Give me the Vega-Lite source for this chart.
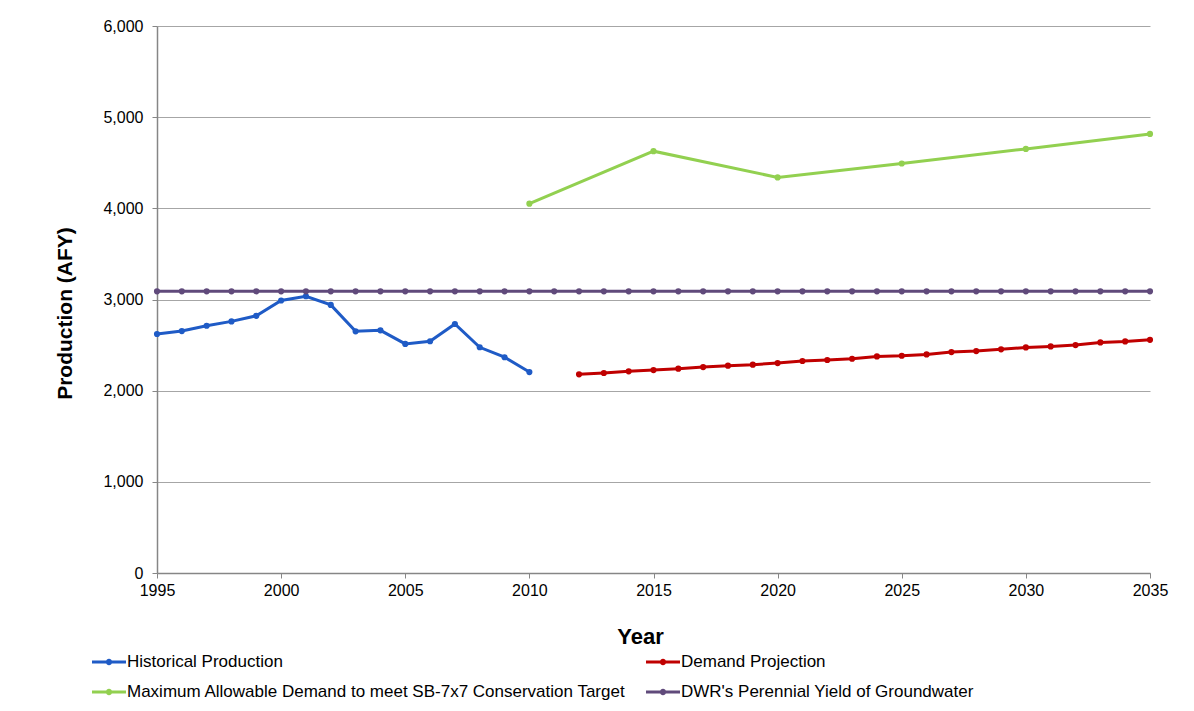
{
  "$schema": "https://vega.github.io/schema/vega-lite/v6.json",
  "width": 993,
  "height": 547,
  "autosize": {"type": "none"},
  "padding": {"left": 157, "top": 26, "right": 44, "bottom": 138},
  "background": "white",
  "config": {"view": {"stroke": null}, "font": "Liberation Sans"},
  "data": {
    "values": [
      {"series": "Historical Production", "year": 1995, "value": 2622},
      {"series": "Historical Production", "year": 1996, "value": 2654},
      {"series": "Historical Production", "year": 1997, "value": 2712},
      {"series": "Historical Production", "year": 1998, "value": 2760},
      {"series": "Historical Production", "year": 1999, "value": 2821},
      {"series": "Historical Production", "year": 2000, "value": 2989},
      {"series": "Historical Production", "year": 2001, "value": 3036},
      {"series": "Historical Production", "year": 2002, "value": 2941},
      {"series": "Historical Production", "year": 2003, "value": 2651},
      {"series": "Historical Production", "year": 2004, "value": 2662},
      {"series": "Historical Production", "year": 2005, "value": 2513},
      {"series": "Historical Production", "year": 2006, "value": 2542},
      {"series": "Historical Production", "year": 2007, "value": 2731},
      {"series": "Historical Production", "year": 2008, "value": 2476},
      {"series": "Historical Production", "year": 2009, "value": 2367},
      {"series": "Historical Production", "year": 2010, "value": 2204},
      {"series": "Demand Projection", "year": 2012, "value": 2179},
      {"series": "Demand Projection", "year": 2013, "value": 2194},
      {"series": "Demand Projection", "year": 2014, "value": 2212},
      {"series": "Demand Projection", "year": 2015, "value": 2226},
      {"series": "Demand Projection", "year": 2016, "value": 2241},
      {"series": "Demand Projection", "year": 2017, "value": 2259},
      {"series": "Demand Projection", "year": 2018, "value": 2274},
      {"series": "Demand Projection", "year": 2019, "value": 2285},
      {"series": "Demand Projection", "year": 2020, "value": 2303},
      {"series": "Demand Projection", "year": 2021, "value": 2325},
      {"series": "Demand Projection", "year": 2022, "value": 2336},
      {"series": "Demand Projection", "year": 2023, "value": 2350},
      {"series": "Demand Projection", "year": 2024, "value": 2376},
      {"series": "Demand Projection", "year": 2025, "value": 2383},
      {"series": "Demand Projection", "year": 2026, "value": 2398},
      {"series": "Demand Projection", "year": 2027, "value": 2423},
      {"series": "Demand Projection", "year": 2028, "value": 2434},
      {"series": "Demand Projection", "year": 2029, "value": 2453},
      {"series": "Demand Projection", "year": 2030, "value": 2474},
      {"series": "Demand Projection", "year": 2031, "value": 2485},
      {"series": "Demand Projection", "year": 2032, "value": 2500},
      {"series": "Demand Projection", "year": 2033, "value": 2529},
      {"series": "Demand Projection", "year": 2034, "value": 2540},
      {"series": "Demand Projection", "year": 2035, "value": 2558},
      {"series": "Maximum Allowable Demand to meet SB-7x7 Conservation Target", "year": 2010, "value": 4051},
      {"series": "Maximum Allowable Demand to meet SB-7x7 Conservation Target", "year": 2015, "value": 4627},
      {"series": "Maximum Allowable Demand to meet SB-7x7 Conservation Target", "year": 2020, "value": 4339},
      {"series": "Maximum Allowable Demand to meet SB-7x7 Conservation Target", "year": 2025, "value": 4492},
      {"series": "Maximum Allowable Demand to meet SB-7x7 Conservation Target", "year": 2030, "value": 4652},
      {"series": "Maximum Allowable Demand to meet SB-7x7 Conservation Target", "year": 2035, "value": 4816},
      {"series": "DWR's Perennial Yield of Groundwater", "year": 1995, "value": 3090},
      {"series": "DWR's Perennial Yield of Groundwater", "year": 1996, "value": 3090},
      {"series": "DWR's Perennial Yield of Groundwater", "year": 1997, "value": 3090},
      {"series": "DWR's Perennial Yield of Groundwater", "year": 1998, "value": 3090},
      {"series": "DWR's Perennial Yield of Groundwater", "year": 1999, "value": 3090},
      {"series": "DWR's Perennial Yield of Groundwater", "year": 2000, "value": 3090},
      {"series": "DWR's Perennial Yield of Groundwater", "year": 2001, "value": 3090},
      {"series": "DWR's Perennial Yield of Groundwater", "year": 2002, "value": 3090},
      {"series": "DWR's Perennial Yield of Groundwater", "year": 2003, "value": 3090},
      {"series": "DWR's Perennial Yield of Groundwater", "year": 2004, "value": 3090},
      {"series": "DWR's Perennial Yield of Groundwater", "year": 2005, "value": 3090},
      {"series": "DWR's Perennial Yield of Groundwater", "year": 2006, "value": 3090},
      {"series": "DWR's Perennial Yield of Groundwater", "year": 2007, "value": 3090},
      {"series": "DWR's Perennial Yield of Groundwater", "year": 2008, "value": 3090},
      {"series": "DWR's Perennial Yield of Groundwater", "year": 2009, "value": 3090},
      {"series": "DWR's Perennial Yield of Groundwater", "year": 2010, "value": 3090},
      {"series": "DWR's Perennial Yield of Groundwater", "year": 2011, "value": 3090},
      {"series": "DWR's Perennial Yield of Groundwater", "year": 2012, "value": 3090},
      {"series": "DWR's Perennial Yield of Groundwater", "year": 2013, "value": 3090},
      {"series": "DWR's Perennial Yield of Groundwater", "year": 2014, "value": 3090},
      {"series": "DWR's Perennial Yield of Groundwater", "year": 2015, "value": 3090},
      {"series": "DWR's Perennial Yield of Groundwater", "year": 2016, "value": 3090},
      {"series": "DWR's Perennial Yield of Groundwater", "year": 2017, "value": 3090},
      {"series": "DWR's Perennial Yield of Groundwater", "year": 2018, "value": 3090},
      {"series": "DWR's Perennial Yield of Groundwater", "year": 2019, "value": 3090},
      {"series": "DWR's Perennial Yield of Groundwater", "year": 2020, "value": 3090},
      {"series": "DWR's Perennial Yield of Groundwater", "year": 2021, "value": 3090},
      {"series": "DWR's Perennial Yield of Groundwater", "year": 2022, "value": 3090},
      {"series": "DWR's Perennial Yield of Groundwater", "year": 2023, "value": 3090},
      {"series": "DWR's Perennial Yield of Groundwater", "year": 2024, "value": 3090},
      {"series": "DWR's Perennial Yield of Groundwater", "year": 2025, "value": 3090},
      {"series": "DWR's Perennial Yield of Groundwater", "year": 2026, "value": 3090},
      {"series": "DWR's Perennial Yield of Groundwater", "year": 2027, "value": 3090},
      {"series": "DWR's Perennial Yield of Groundwater", "year": 2028, "value": 3090},
      {"series": "DWR's Perennial Yield of Groundwater", "year": 2029, "value": 3090},
      {"series": "DWR's Perennial Yield of Groundwater", "year": 2030, "value": 3090},
      {"series": "DWR's Perennial Yield of Groundwater", "year": 2031, "value": 3090},
      {"series": "DWR's Perennial Yield of Groundwater", "year": 2032, "value": 3090},
      {"series": "DWR's Perennial Yield of Groundwater", "year": 2033, "value": 3090},
      {"series": "DWR's Perennial Yield of Groundwater", "year": 2034, "value": 3090},
      {"series": "DWR's Perennial Yield of Groundwater", "year": 2035, "value": 3090}
    ]
  },
  "mark": {"type": "line", "strokeWidth": 3, "point": {"filled": true, "size": 38}},
  "encoding": {
    "x": {
      "field": "year",
      "type": "quantitative",
      "scale": {"domain": [1995, 2035], "nice": false, "zero": false},
      "axis": {
        "title": "Year",
        "values": [1995, 2000, 2005, 2010, 2015, 2020, 2025, 2030, 2035],
        "format": "d",
        "grid": false,
        "domainColor": "#868686",
        "domainWidth": 1.5,
        "tickColor": "#868686",
        "tickSize": 5,
        "labelFont": "Liberation Sans",
        "labelFontSize": 16,
        "labelColor": "#000000",
        "labelPadding": 4,
        "labelFlush": false,
        "titleFont": "Liberation Sans",
        "titleFontSize": 22,
        "titleFontWeight": "bold",
        "titleColor": "#000000",
        "titleX": 483,
        "titleY": 63,
        "titleBaseline": "middle"
      }
    },
    "y": {
      "field": "value",
      "type": "quantitative",
      "scale": {"domain": [0, 6000], "nice": false},
      "axis": {
        "title": "Production (AFY)",
        "values": [0, 1000, 2000, 3000, 4000, 5000, 6000],
        "format": ",d",
        "gridColor": "#a6a6a6",
        "gridWidth": 1,
        "domainColor": "#868686",
        "domainWidth": 1.5,
        "tickColor": "#868686",
        "tickSize": 5,
        "labelFont": "Liberation Sans",
        "labelFontSize": 16,
        "labelColor": "#000000",
        "labelPadding": 9,
        "titleFont": "Liberation Sans",
        "titleFontSize": 21,
        "titleFontWeight": "bold",
        "titleColor": "#000000",
        "titleX": -92,
        "titleY": 287,
        "titleBaseline": "middle",
        "titleAlign": "center"
      }
    },
    "color": {
      "field": "series",
      "type": "nominal",
      "scale": {
        "domain": ["Historical Production", "Demand Projection", "Maximum Allowable Demand to meet SB-7x7 Conservation Target", "DWR's Perennial Yield of Groundwater"],
        "range": ["#1f5bc6", "#c00000", "#92d050", "#604a7b"]
      },
      "legend": {
        "title": null,
        "orient": "none",
        "legendX": -58,
        "legendY": 626,
        "direction": "horizontal",
        "columns": 2,
        "columnPadding": 14,
        "rowPadding": 12,
        "symbolType": "M-2,0H2M0.2,0A0.2,0.2,0,1,1,-0.2,0A0.2,0.2,0,1,1,0.2,0Z",
        "symbolSize": 289,
        "symbolStrokeWidth": 3,
        "labelFont": "Liberation Sans",
        "labelFontSize": 17,
        "labelColor": "#000000",
        "labelOffset": 8,
        "labelLimit": 800,
        "encode": {
          "symbols": {
            "update": {
              "fill": {"scale": "color", "field": "value"},
              "stroke": {"scale": "color", "field": "value"}
            }
          }
        }
      }
    }
  }
}
